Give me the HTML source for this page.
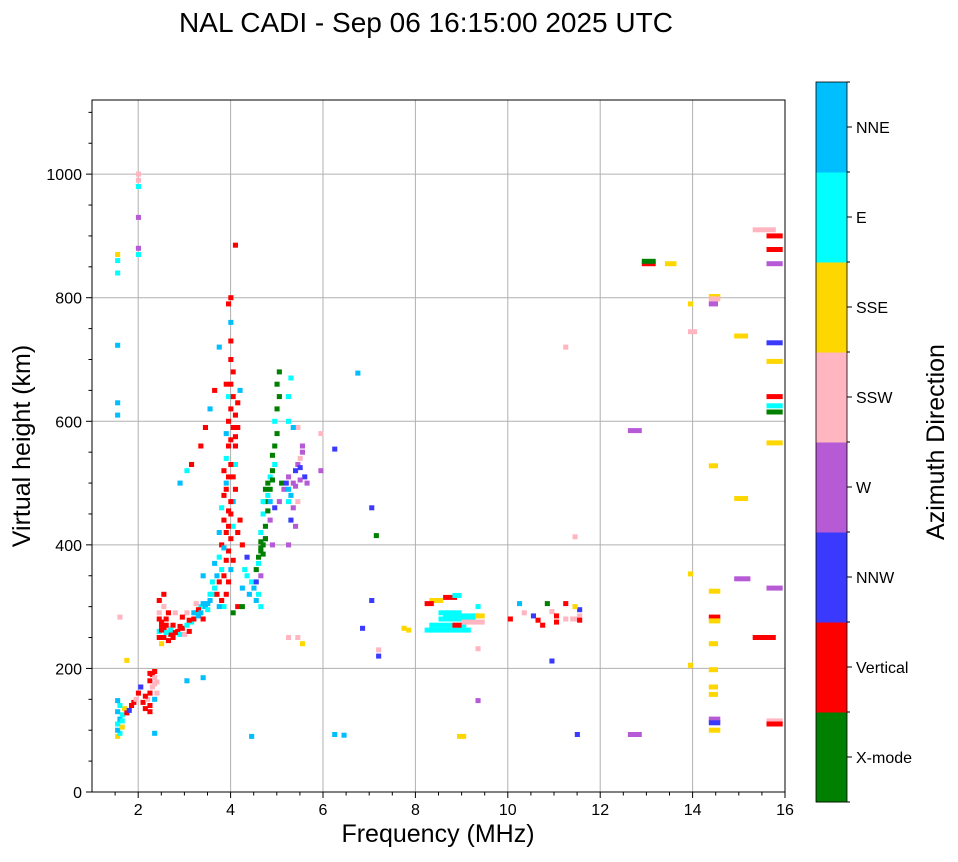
<!DOCTYPE html>
<html><head><meta charset="utf-8"><style>
html,body{margin:0;padding:0;background:#fff;}
svg text{font-family:"Liberation Sans","DejaVu Sans",sans-serif;}
</style></head><body>
<svg id="chart" width="958" height="857" viewBox="0 0 958 857" xmlns="http://www.w3.org/2000/svg">
<text x="426" y="32" font-size="28" text-anchor="middle">NAL CADI - Sep 06 16:15:00 2025 UTC</text>
<g id="grid"></g>
<g id="marks"></g>
<rect x="92" y="100" width="693" height="692" fill="none" stroke="#000" stroke-width="1"/>
<g id="axes"></g>
<text x="438" y="842" font-size="25" text-anchor="middle">Frequency (MHz)</text>
<text transform="translate(30,446) rotate(-90)" font-size="25" text-anchor="middle">Virtual height (km)</text>
<g id="cbar"></g>
<text transform="translate(944,442) rotate(-90)" font-size="25" text-anchor="middle">Azimuth Direction</text>
</svg>
<script>
const categories = ["X-mode","Vertical","NNW","W","SSW","SSE","E","NNE"];
const catColors = ["#008000","#ff0000","#3a3aff","#b65ad6","#ffb6c1","#ffd700","#00ffff","#00bfff"];
const xTicks = [2,4,6,8,10,12,14,16];
const yTicks = [0,200,400,600,800,1000];
// [freq MHz, height km, category index, width MHz(optional)]
const lowLayer = [[1.5,90,5],[1.55,95,6],[1.5,100,7],[1.6,105,5],[1.5,110,6],[1.55,118,7],[1.6,125,6],[1.5,130,7],[1.65,135,5],[1.55,140,6],[1.5,148,7],[1.7,128,1],[1.75,132,2],[1.8,140,1],[1.85,145,1],[1.9,150,4],[1.95,160,1],[2.0,170,2],[2.05,145,1],[2.1,135,1],[2.15,150,4],[2.2,160,1],[2.25,170,4],[2.2,180,1],[2.25,190,1],[2.3,175,4],[2.3,195,1],[2.2,140,1],[2.35,160,4],[2.2,130,1],[2.3,150,7],[2.3,185,4],[2.35,178,4],[2.2,192,1],[2.1,155,1],[1.6,115,6],[1.5,723,7],[1.5,630,7],[1.5,610,7],[1.5,840,6],[1.5,860,6],[1.5,870,5],[1.95,980,6],[1.95,1000,4],[1.95,930,3],[1.95,880,3],[1.95,870,6],[1.95,990,4],[2.3,95,7],[1.7,213,5],[1.55,283,4]];
const kneeLayer = [[2.4,310,1],[2.4,290,4],[2.4,280,1],[2.45,270,1],[2.4,260,6],[2.5,250,1],[2.5,300,4],[2.55,280,1],[2.6,265,4],[2.6,245,1],[2.65,255,1],[2.7,250,1],[2.75,290,4],[2.8,260,1],[2.85,255,6],[2.9,265,1],[2.95,255,4],[3.0,270,6],[3.05,260,1],[3.1,275,6],[3.15,280,1],[3.2,290,6],[3.25,285,7],[3.3,300,6],[3.35,280,1],[3.4,300,7],[3.45,295,6],[3.5,310,7],[3.55,320,6],[3.0,290,4],[3.2,305,4],[2.5,320,1],[2.45,240,5],[2.45,275,1],[2.5,265,1],[2.55,258,6],[2.7,270,1],[2.4,250,1],[2.45,262,1],[2.55,270,1],[2.65,262,6],[2.75,258,1],[2.85,268,1],[3.05,278,1],[3.15,290,7],[3.25,295,1],[3.35,305,7],[3.45,305,7],[3.5,320,6],[3.3,290,7],[2.6,290,1],[2.9,283,1],[3.0,180,7],[3.35,185,7],[3.35,350,7],[3.0,520,6],[3.1,530,1],[3.3,560,1],[3.4,590,1],[3.5,620,7],[3.6,650,1],[3.7,720,7],[3.55,340,6],[3.6,370,7],[2.85,500,7]];
const riseLayer = [[3.6,330,6],[3.65,350,7],[3.7,380,6],[3.75,400,1],[3.7,420,7],[3.8,440,1],[3.75,460,6],[3.8,480,1],[3.85,500,7],[3.8,520,1],[3.85,540,6],[3.9,560,1],[3.85,580,7],[3.9,600,1],[3.95,620,1],[3.9,640,6],[3.95,660,1],[4.0,680,1],[3.95,700,1],[3.95,730,1],[3.95,760,7],[3.9,790,1],[3.95,800,1],[4.05,885,1],[3.8,300,6],[3.85,320,1],[3.9,340,1],[3.95,360,7],[3.9,390,1],[3.95,410,1],[4.0,430,6],[3.95,450,1],[4.0,470,7],[4.05,490,1],[4.0,510,1],[4.05,530,6],[4.05,560,1],[4.0,590,1],[4.05,610,1],[4.1,300,1],[4.0,290,0],[4.2,330,7],[4.25,360,6],[4.3,380,2],[4.2,400,1],[4.3,350,6],[4.35,320,7],[4.4,340,6],[4.4,90,7],[3.75,310,1],[3.8,350,1],[3.85,375,1],[3.9,430,1],[3.95,470,1],[4.1,630,1],[4.15,650,7],[3.7,340,1],[3.75,360,6],[3.8,395,7],[3.85,420,1],[3.9,455,1],[3.85,490,1],[3.9,510,1],[3.95,530,1],[3.95,570,1],[4.0,640,1],[3.85,660,1],[3.65,320,1],[3.7,300,7],[4.05,575,1],[4.1,590,1],[4.0,375,1],[4.1,420,1],[4.15,440,1]];
const greenLayer = [[4.5,360,0],[4.55,380,0],[4.6,390,0],[4.65,400,0],[4.6,420,6],[4.7,430,0],[4.65,450,6],[4.7,470,0],[4.75,480,6],[4.8,490,0],[4.75,500,0],[4.8,510,6],[4.85,520,0],[4.9,530,6],[4.85,545,0],[4.9,560,0],[4.95,580,0],[4.9,600,6],[4.95,620,0],[5.0,640,0],[4.95,660,0],[5.0,680,0],[4.5,340,2],[4.6,350,3],[4.55,320,6],[4.7,410,2],[4.8,440,3],[4.9,460,2],[4.85,400,3],[4.6,300,6],[4.5,310,7],[5.0,470,3],[5.05,500,0],[4.6,405,0],[4.65,385,0],[4.2,300,0],[4.6,395,0],[4.7,410,0],[4.75,455,0],[4.65,470,6],[4.8,470,7],[4.7,490,0],[4.85,505,0],[4.55,370,6],[4.45,330,7]];
const purpleLayer = [[5.1,490,3],[5.15,500,2],[5.2,510,3],[5.25,480,7],[5.3,500,3],[5.35,520,2],[5.4,530,3],[5.45,540,4],[5.5,550,3],[5.2,470,6],[5.3,460,3],[5.25,440,2],[5.2,400,3],[5.4,590,4],[5.5,560,3],[5.2,600,6],[5.2,640,6],[5.25,670,6],[5.6,500,3],[5.55,510,2],[5.3,590,7],[5.35,430,3],[5.4,470,4],[5.9,580,4],[5.9,520,3],[6.2,555,2],[6.7,678,7],[6.2,93,7],[6.4,92,7],[5.4,250,4],[5.5,240,5],[5.2,250,4],[5.35,495,3],[5.45,505,3],[5.2,490,7],[5.45,525,2]];
const midLayer = [[7.0,460,2],[7.1,415,0],[7.0,310,2],[6.8,265,2],[7.15,230,4],[7.15,220,2],[7.7,265,5],[7.8,262,5]];
const fLayer = [[8.3,310,5,0.3],[8.6,315,1,0.3],[8.8,318,6,0.2],[8.2,305,1,0.2],[8.5,290,6,0.5],[8.6,285,6,0.8],[8.5,280,6,0.8],[8.3,270,6,0.8],[8.2,262,6,1.0],[9.0,275,4,0.3],[9.3,285,5,0.2],[9.3,275,4,0.2],[9.3,300,6],[8.8,270,1,0.2],[9.3,232,4],[9.3,148,3],[8.9,90,5,0.2]];
const f2Layer = [[10.0,280,1],[10.2,305,7],[10.3,290,4],[10.5,285,2],[10.6,278,1],[10.7,270,1],[10.8,305,0],[10.9,292,4],[11.0,285,1],[11.0,275,1],[11.2,280,4],[11.2,305,1],[11.35,280,4,0.2],[11.5,285,4],[11.5,278,1],[11.5,295,2],[11.4,300,5],[10.9,212,2],[11.45,93,2],[11.2,720,4],[11.4,413,4]];
const highLayer = [[12.6,585,3,0.3],[12.6,93,3,0.3],[12.9,855,1,0.3],[12.9,859,0,0.3],[13.4,855,5,0.25],[13.9,745,4,0.2],[13.9,790,5],[13.9,353,5],[13.9,205,5],[14.35,802,5,0.25],[14.35,798,4,0.25],[14.35,790,3,0.2],[14.35,528,5,0.2],[14.35,325,5,0.25],[14.35,283,1,0.25],[14.35,277,5,0.25],[14.35,240,5,0.2],[14.35,198,5,0.2],[14.35,170,5,0.2],[14.35,158,5,0.2],[14.35,118,3,0.25],[14.35,112,2,0.25],[14.35,100,5,0.25],[14.9,738,5,0.3],[14.9,475,5,0.3],[14.9,345,3,0.35],[15.3,250,1,0.5],[15.3,910,4,0.5],[15.6,900,1,0.35],[15.6,878,1,0.35],[15.6,855,3,0.35],[15.6,727,2,0.35],[15.6,697,5,0.35],[15.6,640,1,0.35],[15.6,625,6,0.35],[15.6,615,0,0.35],[15.6,565,5,0.35],[15.6,330,3,0.35],[15.6,115,4,0.35],[15.6,110,1,0.35]];

const NS='http://www.w3.org/2000/svg';
const X0=92,X1=785,Y0=792,Y1=100,FMIN=1,FMAX=16,HMIN=0,HMAX=1120;
function xs(f){return X0+(f-FMIN)/(FMAX-FMIN)*(X1-X0);}
function ys(h){return Y0-(h-HMIN)/(HMAX-HMIN)*(Y0-Y1);}
function mk(tag,attrs,parent){const e=document.createElementNS(NS,tag);for(const k in attrs)e.setAttribute(k,attrs[k]);parent.appendChild(e);return e;}
const grid=document.getElementById('grid'),axes=document.getElementById('axes'),marks=document.getElementById('marks'),cbar=document.getElementById('cbar');
xTicks.forEach(t=>{
  const x=xs(t);
  if(t<FMAX){const g=mk('line',{x1:x,x2:x,y1:Y1,y2:Y0,stroke:'#b0b0b0','stroke-width':1},grid);
  
  }
  const tk=mk('line',{x1:x,x2:x,y1:Y0,y2:Y0+6,stroke:'#000'},axes);
  
  
  const tl=mk('text',{x:x,y:Y0+23,'font-size':16,'text-anchor':'middle'},axes);tl.textContent=t;
  
  
});
for(let f=1.5;f<FMAX;f+=0.5){if(f%2===0)continue;const x=xs(f);mk('line',{x1:x,x2:x,y1:Y0,y2:Y0+3.5,stroke:'#000'},axes);}
yTicks.forEach(t=>{
  const y=ys(t);
  if(t>0){const g=mk('line',{x1:X0,x2:X1,y1:y,y2:y,stroke:'#b0b0b0','stroke-width':1},grid);
  
  }
  const tk=mk('line',{x1:X0-6,x2:X0,y1:y,y2:y,stroke:'#000'},axes);
  
  
  const tl=mk('text',{x:X0-10,y:y+6,'font-size':16,'text-anchor':'end'},axes);tl.textContent=t;
  
  
});
for(let h=50;h<HMAX;h+=50){if(h%200===0)continue;const y=ys(h);mk('line',{x1:X0-3.5,x2:X0,y1:y,y2:y,stroke:'#000'},axes);}
[lowLayer,kneeLayer,riseLayer,greenLayer,purpleLayer,midLayer,fLayer,f2Layer,highLayer].forEach(layer=>{
  layer.forEach(p=>{
    const w=p[3]||0.11;
    const r=mk('rect',{x:xs(p[0]).toFixed(1),y:(ys(p[1])-2.5).toFixed(1),width:(xs(p[0]+w)-xs(p[0])).toFixed(1),height:5,fill:catColors[p[2]]},marks);
    
    
  });
});
const CX=816,CW=31,CT=82,CB=802,seg=(CB-CT)/categories.length;
categories.forEach((c,i)=>{
  const y=CB-(i+1)*seg;
  const r=mk('rect',{x:CX,y:y,width:CW,height:seg+0.5,fill:catColors[i]},cbar);
  
  
  mk('line',{x1:CX+CW,x2:CX+CW+5,y1:y+seg/2,y2:y+seg/2,stroke:'#000'},cbar);
  const t=mk('text',{x:CX+CW+9,y:y+seg/2+6,'font-size':16},cbar);t.textContent=c;
  
  
});
for(let i=0;i<=categories.length;i++){const y=CB-i*seg;mk('line',{x1:CX+CW,x2:CX+CW+3,y1:y,y2:y,stroke:'#000'},cbar);}
mk('rect',{x:CX,y:CT,width:CW,height:CB-CT,fill:'none',stroke:'#000','stroke-width':0.8},cbar);
</script>
</body></html>
